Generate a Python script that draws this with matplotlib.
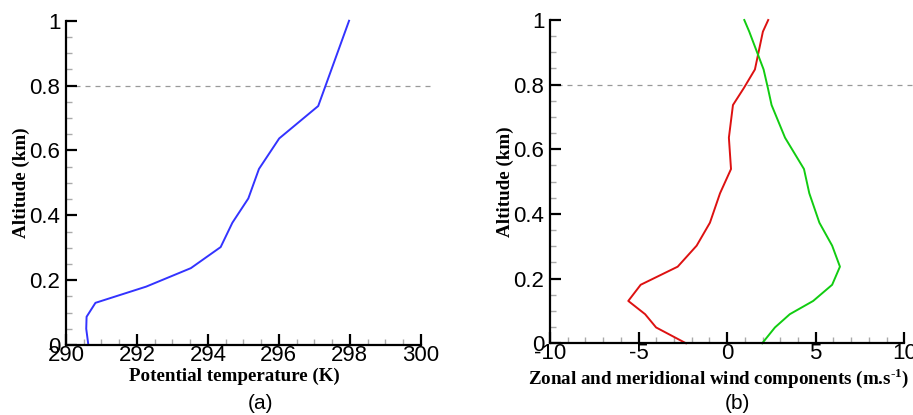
import matplotlib
matplotlib.use("Agg")
import matplotlib.pyplot as plt
from matplotlib.ticker import MultipleLocator, FixedLocator

plt.rcParams["mathtext.fontset"] = "custom"
plt.rcParams["mathtext.rm"] = "Liberation Serif:bold"
plt.rcParams["mathtext.bf"] = "Liberation Serif:bold"

# ---- data ----
alt_theta = [0.0, 0.05, 0.087, 0.13, 0.18, 0.237, 0.302, 0.377, 0.452, 0.543, 0.637, 0.737, 1.0]
theta = [290.63, 290.57, 290.58, 290.83, 292.26, 293.52, 294.36, 294.69, 295.14, 295.44, 296.01, 297.11, 297.98]

alt_wind = [0.0, 0.049, 0.09, 0.131, 0.181, 0.237, 0.302, 0.373, 0.464, 0.539, 0.636, 0.737, 0.79, 0.847, 0.964, 1.0]
u_wind = [-2.32, -4.01, -4.63, -5.58, -4.88, -2.79, -1.72, -0.97, -0.40, 0.22, 0.10, 0.33, 0.95, 1.57, 2.02, 2.32]
v_wind = [1.98, 2.70, 3.54, 4.86, 5.93, 6.37, 5.93, 5.21, 4.64, 4.34, 3.27, 2.51, 2.30, 2.06, 1.25, 0.97]

theta_ticks = [290, 292, 294, 296, 298, 300]
wind_ticks = [-10, -5, 0, 5, 10]
alt_ticks = [0, 0.2, 0.4, 0.6, 0.8, 1]
pbl_top = 0.8

fig = plt.figure(figsize=(9.13, 4.15), dpi=100)
axA = fig.add_axes([0.0723, 0.1687, 0.3885, 0.7813])
axB = fig.add_axes([0.6024, 0.1728, 0.3880, 0.7790])

tick_font = dict(family="Liberation Sans", size=16)
label_font = dict(family="Liberation Serif", weight="bold", size=13.7)

def style(ax, xticks, xminor):
    for s in ["top", "right"]:
        ax.spines[s].set_visible(False)
    for s in ["left", "bottom"]:
        ax.spines[s].set_linewidth(1.6)
    ax.set_ylim(0, 1)
    ax.set_xlim(xticks[0], xticks[-1])
    ax.xaxis.set_major_locator(FixedLocator(xticks))
    ax.xaxis.set_minor_locator(MultipleLocator(xminor))
    ax.yaxis.set_major_locator(FixedLocator(alt_ticks))
    ax.yaxis.set_minor_locator(MultipleLocator(0.05))
    ax.tick_params(which="major", direction="in", length=8, width=1.6, color="black")
    ax.tick_params(which="minor", direction="in", length=4, width=1.0, color="#aaaaaa")
    ax.tick_params(axis="x", which="major", pad=0)
    ax.tick_params(axis="y", which="major", pad=4)
    ax.set_xticklabels([f"{t:g}" for t in xticks], **tick_font)
    ax.set_yticklabels([f"{t:g}" for t in alt_ticks], **tick_font)
    ax.set_ylabel("Altitude (km)", labelpad=0, **label_font)

style(axA, theta_ticks, 0.5)
style(axB, wind_ticks, 1)

axA.plot(theta, alt_theta, color="#3333ff", lw=1.4, clip_on=False)
axB.plot(u_wind, alt_wind, color="#dd1111", lw=1.4, clip_on=False)
axB.plot(v_wind, alt_wind, color="#11cc11", lw=1.4, clip_on=False)

axA.axhline(pbl_top, xmin=0.025, xmax=1.03, color="#999999", lw=0.9,
            ls=(0, (4, 4)), clip_on=False, zorder=0)
axB.axhline(pbl_top, xmin=0.02, xmax=1.03, color="#999999", lw=0.9,
            ls=(0, (4, 4)), clip_on=False, zorder=0)

axA.set_xlabel("Potential temperature (K)", labelpad=1, **label_font)
axB.set_xlabel("Zonal and meridional wind components (m.s$^{\\text{-1}}$)", labelpad=1, **label_font)
axA.xaxis.label.set_x(0.475)
axB.xaxis.label.set_x(0.477)

fig.text(260 / 913, 1 - 403 / 415, "(a)", ha="center", va="center", family="Liberation Sans", size=15)
fig.text(737 / 913, 1 - 403 / 415, "(b)", ha="center", va="center", family="Liberation Sans", size=15)

fig.savefig("out.png", dpi=100)
